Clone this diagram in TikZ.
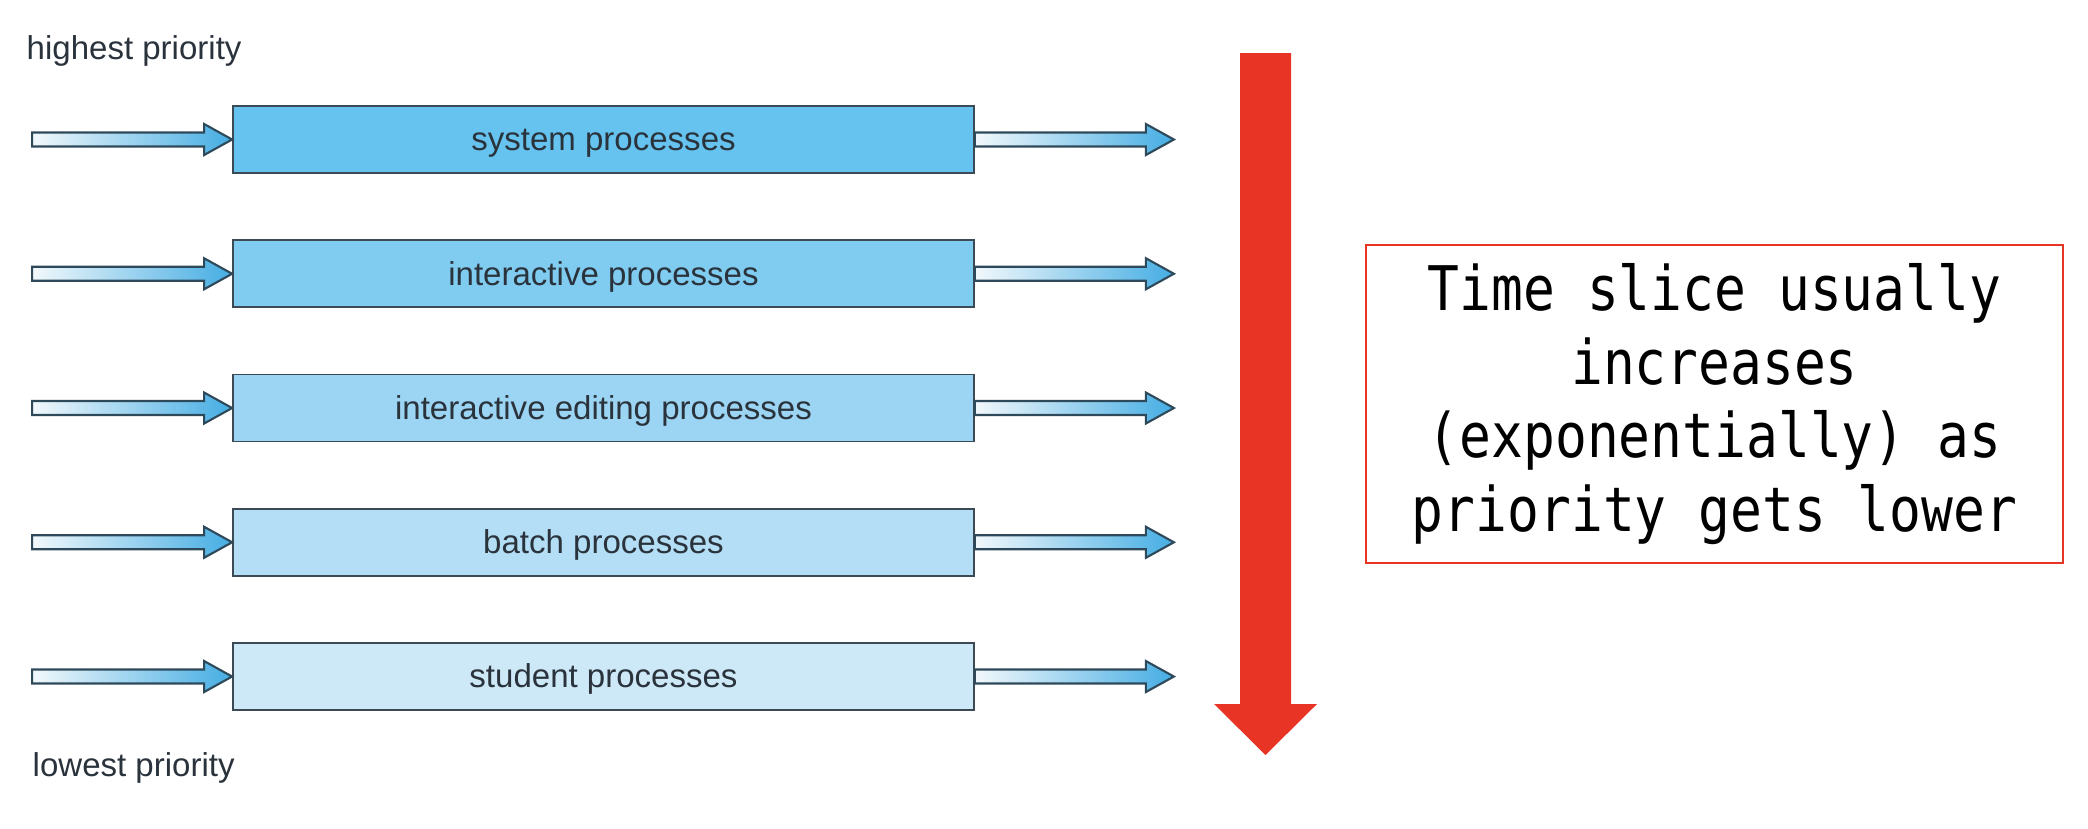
\documentclass[tikz,border=0pt]{standalone}
\usepackage{fontspec}
\setmainfont{Liberation Sans}
\newfontfamily\slicefont[FakeStretch=0.86]{DejaVu Sans Mono}
\usetikzlibrary{positioning,calc}

\definecolor{qsystem}{HTML}{66C3EF}
\definecolor{qinter}{HTML}{80CBF0}
\definecolor{qedit}{HTML}{9CD5F3}
\definecolor{qbatch}{HTML}{B3DEF5}
\definecolor{qstudent}{HTML}{CDE8F7}
\definecolor{qline}{HTML}{3B4A55}
\definecolor{arrowblue}{HTML}{45ADE3}
\definecolor{arrowpale}{HTML}{F2F8FB}
\definecolor{arrowline}{HTML}{2E4A5A}
\definecolor{slicered}{HTML}{E83424}
\definecolor{labelgray}{HTML}{2A333C}

% block arrow between two named points
\newcommand{\fatarrow}[2]{%
  \shadedraw[fatarrow] let \p1=(#1), \p2=(#2) in
    (\x1,\y1+0.07cm) -- (\x2-0.28cm,\y1+0.07cm) -- (\x2-0.28cm,\y1+0.155cm)
    -- (\x2,\y1) -- (\x2-0.28cm,\y1-0.155cm) -- (\x2-0.28cm,\y1-0.07cm)
    -- (\x1,\y1-0.07cm) -- cycle;}

\begin{document}
\begin{tikzpicture}[
        node distance=0.655cm,
        queue/.style={rectangle, draw=qline, line width=0.5pt, minimum width=7.41cm, minimum height=0.67cm, inner sep=0pt, text height=0.75em, text depth=0.11em, font=\fontsize{9.4}{11}\selectfont, text=labelgray},
        level/.style={inner sep=0pt, anchor=base west, font=\fontsize{9.4}{11}\selectfont, text=labelgray},
        fatarrow/.style={left color=arrowpale, right color=arrowblue, draw=arrowline, line width=0.6pt},
        slicebox/.style={rectangle, draw=slicered, line width=0.6pt, minimum width=6.97cm, minimum height=3.18cm, align=center, font=\slicefont\fontsize{17.5}{20.9}\selectfont}
    ]
    \useasboundingbox (0,0) rectangle (20.88,-8.28);

    % Priority labels
    \node[level] (highest) at (0.26,-0.59) {highest priority};
    \node[level] (lowest) at (0.32,-7.76) {lowest priority};

    % Queues
    \node[queue, fill=qsystem] (system) at (6.035,-1.395) {system processes};
    \node[queue, fill=qinter, below=of system] (interactive) {interactive processes};
    \node[queue, fill=qedit, below=of interactive] (editing) {interactive editing processes};
    \node[queue, fill=qbatch, below=of editing] (batch) {batch processes};
    \node[queue, fill=qstudent, below=of batch] (student) {student processes};

    % Arrow ends
    \coordinate[left=2cm of system] (system in);
    \coordinate[left=2cm of interactive] (interactive in);
    \coordinate[left=2cm of editing] (editing in);
    \coordinate[left=2cm of batch] (batch in);
    \coordinate[left=2cm of student] (student in);
    \coordinate[right=1.99cm of system] (system out);
    \coordinate[right=1.99cm of interactive] (interactive out);
    \coordinate[right=1.99cm of editing] (editing out);
    \coordinate[right=1.99cm of batch] (batch out);
    \coordinate[right=1.99cm of student] (student out);

    % Arrows
    \fatarrow{system in}{system.west}
    \fatarrow{interactive in}{interactive.west}
    \fatarrow{editing in}{editing.west}
    \fatarrow{batch in}{batch.west}
    \fatarrow{student in}{student.west}
    \fatarrow{system.east}{system out}
    \fatarrow{interactive.east}{interactive out}
    \fatarrow{editing.east}{editing out}
    \fatarrow{batch.east}{batch out}
    \fatarrow{student.east}{student out}

    % Priority arrow
    \fill[slicered] (12.40,-0.53) -- (12.91,-0.53) -- (12.91,-7.04) -- (13.17,-7.04)
        -- (12.655,-7.55) -- (12.14,-7.04) -- (12.40,-7.04) -- cycle;

    % Note
    \node[slicebox] (slice) at (17.145,-4.04) {Time slice usually\\increases\\(exponentially) as\\priority gets lower};

\end{tikzpicture}
\end{document}
